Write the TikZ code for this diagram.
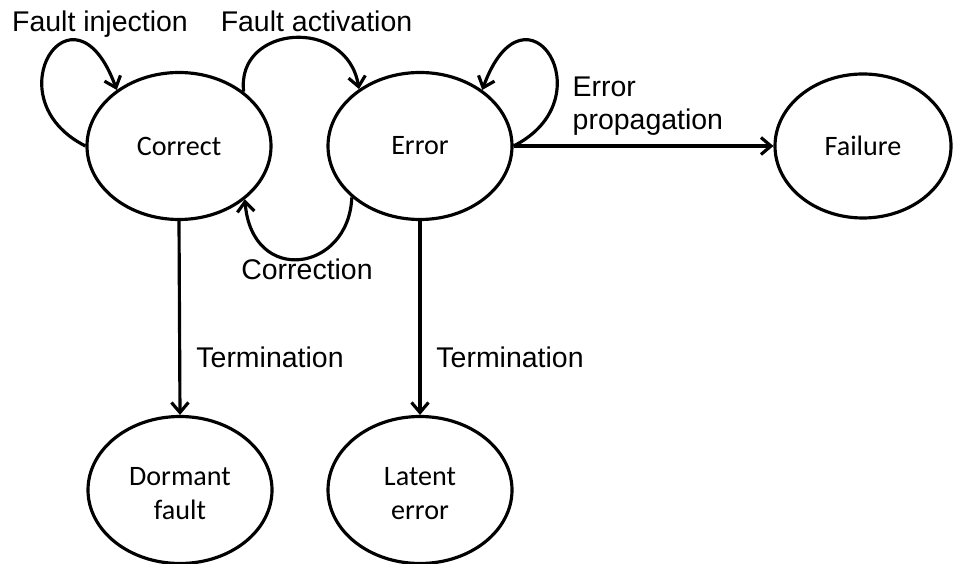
\documentclass[tikz,border=0pt]{standalone}
\usepackage{fontspec}
\setmainfont{Liberation Sans}
\newfontfamily\statefont{Carlito}
\usetikzlibrary{shapes.geometric,arrows.meta}

\tikzset{
  state/.style={ellipse, draw, line width=0.9pt, inner sep=0pt,
    minimum width=1.84cm, minimum height=1.47cm, align=center,
    font=\statefont\fontsize{8}{9.7}\selectfont},
  twoline/.style={text height=17pt, text depth=0pt},
  edge/.style={line width=0.9pt, -{Straight Barb[length=0.1cm,width=0.17cm]}},
  tag/.style={font=\fontsize{8.1}{9.4}\selectfont, inner sep=0pt}
}

\begin{document}
\begin{tikzpicture}
  \useasboundingbox (0,0) rectangle (9.53,5.63);
  % states
  \node[state] (correct) at (1.79,4.17) {Correct};
  \node[state] (error) at (4.20,4.17) {Error};
  \node[state, minimum width=1.76cm, minimum height=1.44cm] (failure) at (8.63,4.17) {Failure};
  \node[state, twoline] (dormant) at (1.80,0.73) {Dormant\\fault};
  \node[state, twoline] (latent) at (4.20,0.73) {Latent\\error};
  % transitions
  \draw[edge] (correct.west) .. controls +(-0.95,0.48) and +(-0.43,1.18) .. (correct.138);
  \draw[edge] (correct.40) .. controls +(-0.08,0.67) and +(-0.12,0.73) .. (error.137);
  \draw[edge] (error.east) .. controls +(0.95,0.48) and +(0.43,1.18) .. (error.42);
  \draw[edge] (error.217) .. controls +(-0.03,-0.75) and +(0.07,-0.87) .. (correct.321);
  \draw[edge] (error.east) -- (failure.west);
  \draw[edge] (correct.south) -- (dormant.north);
  \draw[edge] (error.south) -- (latent.north);
  % labels
  \node[tag, anchor=base] (injlbl) at (1.00,5.31) {Fault injection};
  \node[tag, anchor=base] (actlbl) at (3.165,5.31) {Fault activation};
  \node[tag, anchor=base west, align=left] (proplbl) at (5.72,4.33) {Error\\propagation};
  \node[tag, anchor=base] (corrlbl) at (3.07,2.83) {Correction};
  \node[tag, anchor=base] (term1) at (2.70,1.95) {Termination};
  \node[tag, anchor=base] (term2) at (5.10,1.95) {Termination};
\end{tikzpicture}
\end{document}
